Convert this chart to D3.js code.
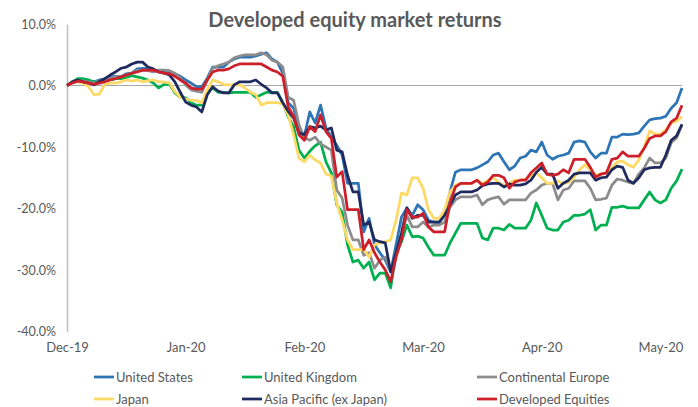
<!DOCTYPE html>
<html lang="en">
	<head>
		<meta charset="utf-8">
		<title>Developed equity market returns</title>
		<script type="text/javascript" src="https://cdn.jsdelivr.net/npm/d3@7"></script>
		<style type="text/css">
			body { margin: 0; background: #fff; }
			text { font-family: Lato, "Liberation Sans", sans-serif; fill: #595959; }
		</style>
	</head>
	<body>
		<script type="text/javascript">

			//Width and height
			var w = 698;
			var h = 407;

			//Tick labels (one every 22 trading days)
			var tickIndex = [0, 22, 44, 66, 88, 110];
			var tickLabels = ["Dec-19", "Jan-20", "Feb-20", "Mar-20", "Apr-20", "May-20"];
			var yTicks = [10, 0, -10, -20, -30, -40];

			//Cumulative returns, %
			var unitedStates = [0,0.6,0.9,0.7,0.7,0.6,0.9,1.1,1.4,1.5,
				1.4,1.9,2.0,2.7,2.8,2.8,2.5,2.4,2.4,2.0,
				1.9,1.5,0.9,0.4,-0.2,-0.2,1.2,3.0,3.0,3.0,
				3.8,4.3,4.6,4.6,4.6,4.8,5.1,5.3,4.3,3.8,
				2.0,-2.8,-3.7,-6.9,-8.2,-4.3,-6.1,-3.2,-6.9,-8.4,
				-9.7,-11.3,-15.9,-15.9,-15.9,-23.8,-21.6,-25.9,-27.2,-28.4,
				-30.3,-25.9,-21.4,-19.9,-21.1,-19.4,-20.2,-21.9,-22.2,-22.2,
				-21.1,-17.3,-14.1,-13.7,-13.7,-13.7,-13.4,-12.9,-12.4,-11.3,
				-11.0,-12.4,-13.7,-13.1,-11.8,-11.5,-10.5,-10.8,-9.2,-11.3,
				-12.0,-11.5,-11.3,-11.0,-9.2,-9.0,-9.2,-10.8,-11.8,-11.0,
				-11.0,-8.4,-8.4,-7.9,-8.0,-7.9,-7.7,-6.6,-5.6,-5.4,
				-5.3,-5.0,-3.7,-2.8,-0.4];

			var unitedKingdom = [0,0.6,1.1,1.1,0.9,0.6,0.6,0.9,0.9,1.1,
				1.1,1.3,1.6,1.4,1.2,0.9,0.4,-0.4,0.2,0.2,
				-1.2,-1.9,-2.0,-2.8,-3.2,-3.2,-1.1,-0.4,-1.1,-1.1,
				-1.2,-1.1,-1.1,-1.1,-1.1,-1.9,-1.5,-1.1,-1.1,-1.1,
				-2.8,-5.1,-6.7,-10.5,-11.8,-10.7,-9.8,-9.2,-12.4,-14.2,
				-19.4,-20.6,-25.9,-28.7,-28.4,-29.7,-28.7,-31.6,-30.5,-30.5,
				-32.9,-27.2,-25.4,-22.7,-24.6,-24.5,-24.8,-26.3,-27.6,-27.6,
				-27.6,-25.6,-24.0,-22.4,-22.4,-22.4,-22.4,-24.8,-25.1,-23.2,
				-23.2,-23.5,-22.6,-23.2,-23.2,-23.2,-21.9,-19.1,-21.1,-23.2,
				-23.5,-23.5,-22.2,-21.9,-21.1,-21.1,-20.9,-20.2,-23.5,-22.7,
				-22.7,-19.8,-19.8,-19.6,-19.9,-19.9,-19.9,-18.6,-17.3,-18.6,
				-19.1,-18.6,-16.7,-15.5,-13.6];

			var continentalEurope = [0,0.6,0.9,0.7,0.6,0.4,0.7,1.1,1.2,1.4,
				1.5,1.7,2.0,2.4,2.5,2.4,2.2,2.5,2.5,2.4,
				2.0,1.2,0.1,-0.7,-0.9,-1.1,0.9,2.8,3.2,3.5,
				3.8,4.5,4.8,5.0,5.0,5.0,5.3,5.0,4.1,3.8,
				3.0,-1.9,-2.4,-6.4,-8.5,-8.9,-8.4,-9.5,-10.0,-10.5,
				-17.0,-18.3,-22.7,-25.1,-25.1,-27.6,-27.2,-29.7,-28.4,-27.9,
				-30.0,-27.6,-24.3,-21.1,-23.0,-23.0,-22.2,-23.0,-22.7,-22.7,
				-22.2,-19.8,-18.6,-18.1,-18.1,-18.1,-17.8,-19.4,-18.6,-18.3,
				-18.1,-19.3,-18.6,-18.6,-18.6,-18.6,-17.5,-17.0,-16.2,-15.9,
				-15.9,-18.6,-17.0,-16.7,-15.5,-15.5,-15.5,-16.7,-18.6,-18.5,
				-18.3,-16.2,-15.2,-15.4,-15.7,-15.9,-14.4,-13.4,-11.8,-12.6,
				-12.6,-11.8,-9.3,-8.5,-6.4];

			var japan = [0,0.6,0.6,0.4,-0.2,-1.5,-1.4,0.2,0.4,0.4,
				0.6,0.9,0.7,0.9,0.6,0.8,0.9,0.6,0.6,0.4,
				-1.0,-1.9,-2.2,-2.4,-2.4,-2.8,-0.7,0.9,0.6,0.2,
				0.1,0.1,0.1,-0.4,-1.1,-1.5,-3.2,-2.8,-2.8,-2.8,
				-3.0,-4.8,-8.0,-11.8,-12.4,-11.3,-12.1,-12.6,-14.4,-14.7,
				-19.1,-21.9,-25.1,-26.7,-26.7,-26.7,-27.9,-25.9,-25.6,-25.4,
				-25.1,-21.9,-17.5,-17.8,-15.0,-15.0,-16.7,-20.2,-21.6,-21.6,
				-20.2,-17.3,-16.2,-15.9,-15.9,-15.9,-15.4,-16.0,-15.4,-15.0,
				-15.7,-16.3,-15.9,-15.4,-15.4,-15.2,-14.7,-14.2,-15.0,-15.9,
				-15.9,-15.5,-16.0,-15.7,-15.0,-13.7,-12.9,-13.7,-14.6,-14.4,
				-14.2,-13.4,-12.4,-12.3,-12.9,-13.3,-12.1,-10.0,-7.4,-7.9,
				-7.9,-7.2,-6.1,-5.8,-5.1];

			var asiaPacific = [0,0.6,0.9,0.6,0.4,0.1,0.6,1.1,1.7,2.2,
				2.8,3.0,3.5,3.8,3.8,3.0,2.7,2.2,2.0,1.7,
				0.6,-1.1,-2.7,-3.2,-3.5,-4.3,-1.5,-0.2,-0.9,-1.2,
				-1.2,0.1,0.6,0.6,0.6,0.9,0.2,-0.4,-1.2,-1.2,
				-2.8,-4.2,-5.3,-7.7,-8.0,-6.7,-6.9,-6.6,-7.2,-6.9,
				-10.5,-10.8,-14.6,-17.3,-17.3,-22.7,-22.2,-25.1,-25.4,-25.6,
				-30.3,-27.2,-24.0,-19.9,-21.6,-21.1,-21.1,-22.2,-22.2,-22.2,
				-21.1,-19.4,-17.8,-17.3,-17.3,-17.3,-17.0,-16.3,-16.0,-15.9,
				-15.9,-16.5,-16.0,-16.2,-16.2,-16.0,-15.4,-14.1,-13.3,-14.4,
				-14.4,-16.7,-15.9,-15.4,-14.4,-14.2,-14.2,-14.2,-15.4,-15.0,
				-14.9,-13.7,-13.1,-13.3,-15.4,-15.9,-15.0,-13.7,-13.4,-13.3,
				-13.3,-11.3,-8.9,-8.2,-6.3];

			var developedEquities = [0,0.4,0.7,0.6,0.4,0.2,0.4,0.6,0.9,1.1,
				1.4,1.7,2.0,2.2,2.5,2.5,2.5,2.2,2.0,1.9,
				1.5,0.9,0.4,-0.4,-0.6,-0.6,0.9,2.2,2.5,2.5,
				2.7,3.2,3.5,3.5,3.5,3.5,3.5,3.0,2.5,2.2,
				1.5,-3.5,-5.0,-8.0,-8.9,-6.7,-7.5,-4.8,-7.5,-8.6,
				-14.9,-14.0,-20.2,-20.2,-20.2,-26.7,-25.1,-27.2,-28.7,-30.0,
				-31.9,-27.9,-25.0,-20.2,-21.4,-21.4,-20.8,-23.0,-23.8,-23.8,
				-23.8,-19.0,-16.5,-15.9,-15.9,-15.9,-15.4,-16.2,-15.7,-14.6,
				-14.6,-15.0,-16.7,-15.7,-15.4,-15.4,-14.2,-13.4,-12.6,-14.4,
				-14.6,-14.4,-13.7,-14.2,-12.0,-12.0,-12.0,-13.3,-14.9,-14.4,
				-14.2,-12.0,-11.8,-10.8,-11.5,-11.5,-11.5,-10.2,-8.6,-8.2,
				-8.2,-7.5,-5.9,-5.3,-3.2];

			var seriesNames = ["United States", "United Kingdom", "Continental Europe",
				"Japan", "Asia Pacific (ex Japan)", "Developed Equities"];
			var seriesValues = [unitedStates, unitedKingdom, continentalEurope,
				japan, asiaPacific, developedEquities];
			var seriesColors = ["#2e75b6", "#00b050", "#8c8c8c", "#ffd966", "#1f2a5e", "#cc1f2a"];

			var series = seriesNames.map(function(name, i) {
				return { name: name, values: seriesValues[i], color: seriesColors[i] };
			});

			//Scales
			var xScale = d3.scaleLinear()
						   .domain([0, unitedStates.length - 1])
						   .range([67, 682]);

			var yScale = d3.scaleLinear()
						   .domain([-40, 10])
						   .range([331.5, 24]);

			var svg = d3.select("body")
						.append("svg")
						.attr("width", w)
						.attr("height", h);

			svg.append("rect")
			   .attr("width", w)
			   .attr("height", h)
			   .attr("fill", "#fff");

			//Title
			svg.append("text")
			   .attr("x", 355)
			   .attr("y", 27)
			   .attr("text-anchor", "middle")
			   .attr("font-size", "20px")
			   .attr("font-weight", "bold")
			   .text("Developed equity market returns");

			//Y axis
			var yAxis = d3.axisLeft(yScale)
						  .tickValues(yTicks)
						  .tickSize(0)
						  .tickPadding(11)
						  .tickFormat(function(d) { return d.toFixed(1) + "%"; });

			var gy = svg.append("g")
						.attr("transform", "translate(67,0)")
						.call(yAxis);
			gy.select(".domain").attr("stroke", "#bfbfbf").attr("stroke-width", 1.5);
			gy.selectAll("text").attr("font-size", "12.5px").attr("fill", "#595959")
			  .style("font-family", "Lato, sans-serif");

			//X axis (labels only)
			var xAxis = d3.axisBottom(xScale)
						  .tickValues(tickIndex)
						  .tickSize(0)
						  .tickPadding(11)
						  .tickFormat(function(d, i) { return tickLabels[i]; });

			var gx = svg.append("g")
						.attr("transform", "translate(0,331.5)")
						.call(xAxis);
			gx.select(".domain").remove();
			gx.selectAll("text").attr("font-size", "13px").attr("fill", "#595959")
			  .style("font-family", "Lato, sans-serif");

			//Zero line
			svg.append("line")
			   .attr("x1", xScale(0))
			   .attr("x2", xScale(unitedStates.length - 1))
			   .attr("y1", yScale(0))
			   .attr("y2", yScale(0))
			   .attr("stroke", "#a6a6a6")
			   .attr("stroke-width", 1);

			//Lines
			var line = d3.line()
						 .x(function(d, i) { return xScale(i); })
						 .y(function(d) { return yScale(d); });

			svg.selectAll("path.series")
			   .data(series)
			   .enter()
			   .append("path")
			   .attr("class", "series")
			   .attr("d", function(d) { return line(d.values); })
			   .attr("fill", "none")
			   .attr("stroke", function(d) { return d.color; })
			   .attr("stroke-width", 2.75)
			   .attr("stroke-linejoin", "round");

			//Legend, 3 columns x 2 rows
			var legendX = [94, 242, 477];
			var legendY = [377, 399];

			var legend = svg.selectAll("g.legend")
							.data(series)
							.enter()
							.append("g")
							.attr("class", "legend")
							.attr("transform", function(d, i) {
								return "translate(" + legendX[i % 3] + "," + legendY[Math.floor(i / 3)] + ")";
							});

			legend.append("line")
				  .attr("x1", 0)
				  .attr("x2", 20)
				  .attr("stroke", function(d) { return d.color; })
				  .attr("stroke-width", 2.75);

			legend.append("text")
				  .attr("x", 22)
				  .attr("dy", "0.35em")
				  .attr("font-size", "13px")
				  .text(function(d) { return d.name; });

		</script>
	</body>
</html>
